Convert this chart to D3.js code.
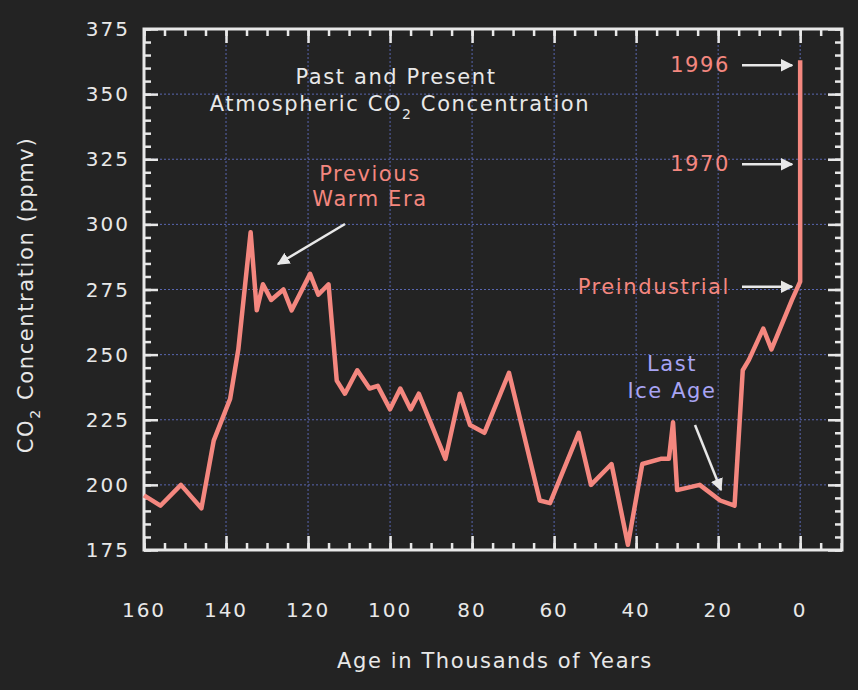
<!DOCTYPE html>
<html>
<head>
<meta charset="utf-8">
<script src="https://cdnjs.cloudflare.com/ajax/libs/d3/7.8.5/d3.min.js"></script>
<style>
  body { margin: 0; background: #232323; }
  text { font-family: "DejaVu Sans", sans-serif; }
  .ann { font-size: 21px; letter-spacing: 1.6px; }
</style>
</head>
<body>
<script>
// ages in thousands of years before present, CO2 in ppmv
var ages = [160, 156, 151, 146, 143, 139, 137, 134, 132.5, 131, 129, 126, 124, 119.5, 117.5, 115,
  113, 111, 108, 105, 103, 100, 97.5, 95, 93, 86.5, 83, 80.5, 77, 71, 63.5, 61, 54, 51, 46, 42,
  38.5, 34, 32, 31, 30, 24.5, 19.5, 16, 14, 12.5, 9, 7, 2, 0, 0];
var co2 = [196, 192, 200, 191, 217, 233, 252, 297, 267, 277, 271, 275, 267, 281, 273, 277,
  240, 235, 244, 237, 238, 229, 237, 229, 235, 210, 235, 223, 220, 243, 194, 193, 220, 200, 208, 177,
  208, 210, 210, 224, 198, 200, 194, 192, 244, 248, 260, 252, 271, 278, 363];
var xTicks = [160, 140, 120, 100, 80, 60, 40, 20, 0];
var yTicks = [175, 200, 225, 250, 275, 300, 325, 350, 375];
var markers = [
  { label: "1996", value: 363 },
  { label: "1970", value: 325 },
  { label: "Preindustrial", value: 278 }
];

var W = 858, H = 690;
var m = { left: 144, right: 16, top: 29, bottom: 140 };
var svg = d3.select("body").append("svg").attr("width", W).attr("height", H);
var x = d3.scaleLinear().domain([160, -10.2]).range([m.left, W - m.right]);
var y = d3.scaleLinear().domain([175, 375]).range([H - m.bottom, m.top]);
var fg = "#e8e8e8", pink = "#f4877f", grid = "#5866b0";

svg.append("defs").append("marker").attr("id", "ah").attr("viewBox", "0 0 10 10")
  .attr("refX", 9).attr("refY", 5).attr("markerWidth", 5).attr("markerHeight", 5)
  .attr("orient", "auto").append("path").attr("d", "M0,0L10,5L0,10z").attr("fill", fg);

// grid
var g = svg.append("g");
xTicks.slice(1).forEach(function (t) {
  g.append("line").attr("x1", x(t)).attr("x2", x(t)).attr("y1", y(375)).attr("y2", y(175))
    .attr("stroke", grid).attr("stroke-dasharray", "2,2");
});
yTicks.slice(1, -1).forEach(function (t) {
  g.append("line").attr("x1", x(160)).attr("x2", x(-10.2)).attr("y1", y(t)).attr("y2", y(t))
    .attr("stroke", grid).attr("stroke-dasharray", "2,2");
});

// axes with inward ticks
function inward(axis, tr, vals, size) {
  svg.append("g").attr("transform", tr)
    .call(axis.tickValues(vals).tickSize(size).tickFormat(""))
    .call(function (s) { s.select(".domain").remove(); s.selectAll("line").attr("stroke", fg).attr("stroke-width", 2.5); });
}
var xMinor = d3.range(160, -10.1, -5), yMinor = d3.range(175, 376, 5);
inward(d3.axisTop(x), "translate(0," + y(175) + ")", xMinor, 7);
inward(d3.axisTop(x), "translate(0," + y(175) + ")", xTicks, 14);
inward(d3.axisBottom(x), "translate(0," + y(375) + ")", xMinor, 7);
inward(d3.axisBottom(x), "translate(0," + y(375) + ")", xTicks, 14);
inward(d3.axisRight(y), "translate(" + x(160) + ",0)", yMinor, 7);
inward(d3.axisRight(y), "translate(" + x(160) + ",0)", yTicks, 14);
inward(d3.axisLeft(y), "translate(" + x(-10.2) + ",0)", yMinor, 7);
inward(d3.axisLeft(y), "translate(" + x(-10.2) + ",0)", yTicks, 14);
svg.append("rect").attr("x", x(160)).attr("y", y(375)).attr("width", x(-10.2) - x(160))
  .attr("height", y(175) - y(375)).attr("fill", "none").attr("stroke", fg).attr("stroke-width", 3);

// tick labels
svg.selectAll(".yl").data(yTicks).enter().append("text")
  .attr("x", 130).attr("y", function (d) { return y(d) + 7; }).attr("text-anchor", "end")
  .attr("fill", fg).attr("font-size", 20).attr("letter-spacing", 2).text(function (d) { return d; });
svg.selectAll(".xl").data(xTicks).enter().append("text")
  .attr("x", function (d) { return x(d); }).attr("y", 617).attr("text-anchor", "middle")
  .attr("fill", fg).attr("font-size", 20).attr("letter-spacing", 2).text(function (d) { return d; });

svg.append("text").attr("class", "ann").attr("x", 495).attr("y", 668).attr("text-anchor", "middle").attr("fill", fg)
  .text("Age in Thousands of Years");
var yt = svg.append("text").attr("class", "ann").attr("transform", "translate(33,295) rotate(-90)").attr("text-anchor", "middle")
  .attr("fill", fg);
yt.append("tspan").text("CO");
yt.append("tspan").attr("font-size", 14).attr("dy", 7).text("2");
yt.append("tspan").attr("dy", -7).text(" Concentration (ppmv)");

// line
svg.append("path").datum(d3.zip(ages, co2)).attr("fill", "none").attr("stroke", pink)
  .attr("stroke-width", 4.5).attr("stroke-linejoin", "round")
  .attr("d", d3.line().x(function (d) { return x(d[0]); }).y(function (d) { return y(d[1]); }));

// titles and notes
svg.append("text").attr("class", "ann").attr("x", 396).attr("y", 84).attr("text-anchor", "middle").attr("fill", fg)
  .text("Past and Present");
var t2 = svg.append("text").attr("class", "ann").attr("x", 400).attr("y", 111).attr("text-anchor", "middle").attr("fill", fg);
t2.append("tspan").text("Atmospheric CO");
t2.append("tspan").attr("font-size", 14).attr("dy", 8).text("2");
t2.append("tspan").attr("dy", -8).text(" Concentration");

svg.append("text").attr("class", "ann").attr("x", 370).attr("y", 181).attr("text-anchor", "middle").attr("fill", pink)
  .text("Previous");
svg.append("text").attr("class", "ann").attr("x", 370).attr("y", 206).attr("text-anchor", "middle").attr("fill", pink)
  .text("Warm Era");
svg.append("line").attr("x1", 345).attr("y1", 224).attr("x2", 278).attr("y2", 264)
  .attr("stroke", fg).attr("stroke-width", 2.5).attr("marker-end", "url(#ah)");

svg.append("text").attr("class", "ann").attr("x", 672).attr("y", 371).attr("text-anchor", "middle").attr("fill", "#a8a4f4")
  .text("Last");
svg.append("text").attr("class", "ann").attr("x", 672).attr("y", 398).attr("text-anchor", "middle").attr("fill", "#a8a4f4")
  .text("Ice Age");
svg.append("line").attr("x1", 695).attr("y1", 425).attr("x2", 721).attr("y2", 490)
  .attr("stroke", fg).attr("stroke-width", 2.5).attr("marker-end", "url(#ah)");

markers.forEach(function (d) {
  svg.append("text").attr("class", "ann").attr("x", 730).attr("y", y(d.value) + 12).attr("text-anchor", "end")
    .attr("fill", pink).text(d.label);
  svg.append("line").attr("x1", 742).attr("x2", x(0) - 8).attr("y1", y(d.value) + 5).attr("y2", y(d.value) + 5)
    .attr("stroke", fg).attr("stroke-width", 2.5).attr("marker-end", "url(#ah)");
});
</script>
</body>
</html>
